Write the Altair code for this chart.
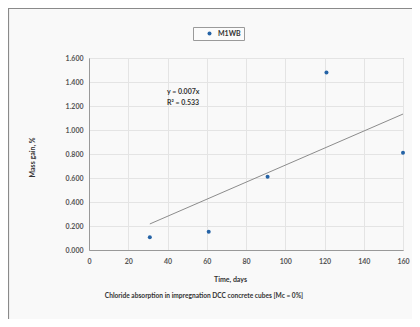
import altair as alt
import pandas as pd

# data
time_days = [31, 61, 91, 121, 160]
mass_gain = [0.106, 0.153, 0.61, 1.48, 0.81]
series_name = ["M1WB"] * 5

trend_x = [31, 160]
trend_y = [0.217, 1.133]

eq_text = ["y = 0.007x", "R² = 0.533"]
eq_x = [39.7, 39.7]
eq_y = [1.317, 1.225]

x_ticks = [0, 20, 40, 60, 80, 100, 120, 140, 160]
y_ticks = [0.0, 0.2, 0.4, 0.6, 0.8, 1.0, 1.2, 1.4, 1.6]

caption = ["Chloride absorption in impregnation  DCC concrete cubes [Mc = 0%]"]

pts = pd.DataFrame({"t": time_days, "m": mass_gain, "s": series_name})
trend = pd.DataFrame({"t": trend_x, "m": trend_y})
eq = pd.DataFrame({"t": eq_x, "m": eq_y, "txt": eq_text})
cap = pd.DataFrame({"txt": caption})

FONT = "Lato"
W, H = 314, 192

xscale = alt.Scale(domain=[0, 160], nice=False)
yscale = alt.Scale(domain=[0, 1.6], nice=False)

xaxis = alt.Axis(values=x_ticks, title="Time, days", titleX=141, titleY=29,
                 titleBaseline="middle", labelPadding=7,
                 labelOverlap=False, labelFlush=False, tickCount=9)
yaxis = alt.Axis(values=y_ticks, format=".3f", title="Mass gain, %",
                 titleX=-57, titleY=99, titleAngle=270, titleAlign="center",
                 titleBaseline="middle", labelPadding=6,
                 labelOverlap=False, labelFlush=False, tickCount=9)

X = alt.X("t:Q", scale=xscale, axis=xaxis)
Y = alt.Y("m:Q", scale=yscale, axis=yaxis)

frame = alt.Chart(pd.DataFrame({"a": [0]})).mark_rect(
    fill="transparent", stroke="#8a8a8a", strokeWidth=1.2
).encode(
    x=alt.value(-80.5), x2=alt.value(W + 40),
    y=alt.value(-49.5), y2=alt.value(H + 90),
)

points = alt.Chart(pts).mark_point(filled=True, size=16, opacity=1).encode(
    x=X, y=Y,
    color=alt.Color("s:N", scale=alt.Scale(domain=["M1WB"], range=["#2563a6"]),
                    legend=alt.Legend(title=None, orient="none", legendX=104, legendY=-31,
                                      symbolType="circle", symbolSize=16,
                                      labelFontSize=7, labelFont=FONT,
                                      labelColor="#333333", labelFontWeight="bold",
                                      padding=3, symbolOffset=10, labelOffset=5,
                                      strokeColor="#9a9a9a", fillColor="#fbfbfb")),
)

line = alt.Chart(trend).mark_line(color="#8c8c8c", strokeWidth=1).encode(x=X, y=Y)

text = alt.Chart(eq).mark_text(
    align="left", baseline="middle", font=FONT, fontSize=7, fontWeight="bold", color="#333333"
).encode(x=X, y=Y, text="txt:N")

cap_text = alt.Chart(cap).mark_text(
    align="center", baseline="middle", font=FONT, fontSize=6.6, fontWeight="bold", color="#333333"
).encode(x=alt.value(115), y=alt.value(238), text="txt:N")

chart = alt.layer(frame, line, points, text, cap_text).properties(
    width=W, height=H,
    padding={"left": 81, "top": 50, "right": 9, "bottom": 69},
    autosize=alt.AutoSizeParams(type="none"),
    background="#f9f9f9",
).configure_view(
    stroke="#999999", strokeWidth=1, fill="#f9f9f9"
).configure_axis(
    labelFont=FONT, labelFontSize=7, labelColor="#555555", labelFontWeight="bold",
    titleFont=FONT, titleFontSize=7, titleColor="#333333", titleFontWeight="bold",
    gridColor="#e4e4e4", gridWidth=1, domainColor="#999999", ticks=False,
)

chart.save("out.html", embed_options={"renderer": "svg", "actions": False})
